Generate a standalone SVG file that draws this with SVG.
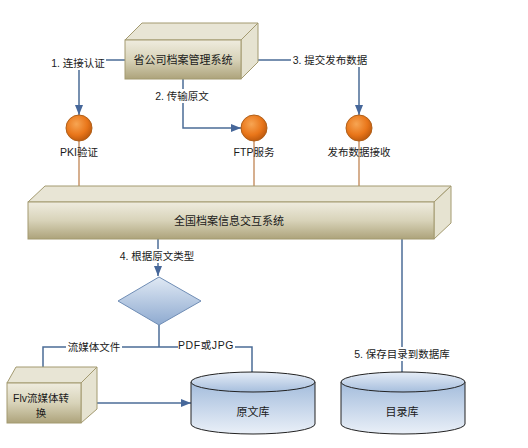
<svg xmlns="http://www.w3.org/2000/svg" width="528" height="448" viewBox="0 0 528 448">
<defs>
<linearGradient id="gFront" x1="0" y1="0" x2="0" y2="1">
<stop offset="0" stop-color="#efecdf"/><stop offset="0.5" stop-color="#d8d3b9"/><stop offset="1" stop-color="#ada37b"/>
</linearGradient>
<linearGradient id="gCylBody" x1="0" y1="0" x2="0" y2="1">
<stop offset="0" stop-color="#a3bcdc"/><stop offset="1" stop-color="#eaf0f8"/>
</linearGradient>
<linearGradient id="gCylTop" x1="0" y1="0" x2="0" y2="1">
<stop offset="0" stop-color="#e6edf7"/><stop offset="1" stop-color="#a6bedd"/>
</linearGradient>
<linearGradient id="gDia" x1="0" y1="0" x2="0" y2="1">
<stop offset="0" stop-color="#e0e9f4"/><stop offset="1" stop-color="#8eaad0"/>
</linearGradient>
<radialGradient id="gBall" cx="0.4" cy="0.35" r="0.7">
<stop offset="0" stop-color="#f7a553"/><stop offset="0.6" stop-color="#e9761a"/><stop offset="1" stop-color="#b8560c"/>
</radialGradient>
<marker id="arr" markerWidth="10" markerHeight="8" refX="10" refY="4" orient="auto" markerUnits="userSpaceOnUse">
<path d="M0,0 L10,4 L0,8 Z" fill="#46679a"/>
</marker>
<style>
.front{fill:url(#gFront);stroke:#a39a70;stroke-width:1}
.topf{fill:#e8e5d5;stroke:#a39a70;stroke-width:1}
.side{fill:#e6e3d1;stroke:#a39a70;stroke-width:1}
.cylb{fill:url(#gCylBody);stroke:#222;stroke-width:1}
.cylt{fill:url(#gCylTop);stroke:#222;stroke-width:1}
.ball{fill:url(#gBall);stroke:#b0601a;stroke-width:1}
.dia{fill:url(#gDia);stroke:#6f8db5;stroke-width:1}
.con{fill:none;stroke:#4b6c97;stroke-width:1.5}
.brn{fill:none;stroke:#c8946a;stroke-width:1.5}
.t{font-family:"Liberation Sans","Noto Sans CJK SC",sans-serif;font-size:11px;fill:#1a1a1a;text-anchor:middle;dominant-baseline:central}
.lbl{font-family:"Liberation Sans","Noto Sans CJK SC",sans-serif;font-size:10.5px;fill:#1a1a1a;text-anchor:middle;dominant-baseline:central}
.bg{fill:#fff}
</style>
</defs>
<rect width="528" height="448" fill="#fff"/>

<g id="connectors">
<polyline class="con" points="125,60 79,60 79,115" marker-end="url(#arr)"/>
<polyline class="con" points="183,79 183,128 241,128" marker-end="url(#arr)"/>
<polyline class="con" points="249,60 359,60 359,115" marker-end="url(#arr)"/>
<line class="brn" x1="79" y1="140" x2="79" y2="186"/>
<line class="brn" x1="254" y1="140" x2="254" y2="186"/>
<line class="brn" x1="359" y1="140" x2="359" y2="186"/>
<line class="con" x1="158" y1="239" x2="158" y2="276" marker-end="url(#arr)"/>
<polyline class="con" points="159,325 159,347"/>
<polyline class="con" points="43,375 43,347 252,347 252,372"/>
<line class="con" x1="88" y1="403" x2="191" y2="403" marker-end="url(#arr)"/>
<line class="con" x1="402" y1="239" x2="402" y2="372" stroke="#3f5c80"/>
<rect class="bg" x="50" y="55" width="56" height="15"/>
<text class="lbl" x="78" y="63">1. 连接认证</text>
<rect class="bg" x="154" y="89" width="56" height="14"/>
<text class="lbl" x="182" y="96">2. 传输原文</text>
<rect class="bg" x="291" y="53" width="78" height="14"/>
<text class="lbl" x="330" y="60">3. 提交发布数据</text>
<rect class="bg" x="118" y="249" width="79" height="14"/>
<text class="lbl" x="157" y="256">4. 根据原文类型</text>
<rect class="bg" x="66" y="340" width="56" height="14"/>
<text class="lbl" x="94" y="347">流媒体文件</text>
<rect class="bg" x="178" y="338" width="57" height="14"/>
<text class="lbl" x="206" y="345" letter-spacing="0.6">PDF或JPG</text>
<rect class="bg" x="353" y="347" width="98" height="14"/>
<text class="lbl" x="402" y="354">5. 保存目录到数据库</text>
</g>

<g id="node-province">
<polygon class="topf" points="125,40 142,23 258,23 241,40"/>
<polygon class="side" points="241,40 258,23 258,62 241,79"/>
<rect class="front" x="125" y="40" width="116" height="39"/>
<text class="t" x="183" y="60">省公司档案管理系统</text>
</g>

<g id="node-pki">
<circle class="ball" cx="79" cy="128" r="13"/>
<text class="lbl" x="79" y="152">PKI验证</text>
</g>

<g id="node-ftp">
<circle class="ball" cx="254" cy="128" r="13"/>
<text class="lbl" x="254" y="152">FTP服务</text>
</g>

<g id="node-publish">
<circle class="ball" cx="359" cy="128" r="13"/>
<text class="lbl" x="359" y="152">发布数据接收</text>
</g>

<g id="node-national">
<polygon class="topf" points="28,202 45,186 451,186 434,202"/>
<polygon class="side" points="434,202 451,186 451,223 434,239"/>
<rect class="front" x="28" y="202" width="406" height="37"/>
<text class="t" x="229" y="221">全国档案信息交互系统</text>
</g>

<g id="node-decision">
<polygon class="dia" points="159,277 201,301 159,325 118,301"/>
</g>

<g id="node-flv">
<polygon class="topf" points="7,383 16,367 97,367 81,383"/>
<polygon class="side" points="81,383 97,367 97,409 81,423"/>
<rect class="front" x="7" y="383" width="74" height="40"/>
<text class="lbl" x="41" y="398">Flv流媒体转</text>
<text class="lbl" x="41" y="413">换</text>
</g>

<g id="node-original-db">
<path class="cylb" d="M191,382 L191,424 A62,10 0 0 0 315,424 L315,382 Z"/>
<ellipse class="cylt" cx="253" cy="382" rx="62" ry="10"/>
<text class="t" x="253" y="412">原文库</text>
</g>

<g id="node-catalog-db">
<path class="cylb" d="M341,382 L341,424 A62,10 0 0 0 465,424 L465,382 Z"/>
<ellipse class="cylt" cx="403" cy="382" rx="62" ry="10"/>
<text class="t" x="402" y="412">目录库</text>
</g>
</svg>
